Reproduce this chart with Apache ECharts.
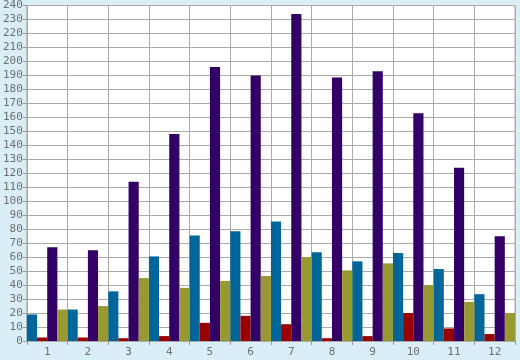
<!DOCTYPE html>
<html>
<head>
<meta charset="utf-8">
<script src="https://cdn.jsdelivr.net/npm/echarts@6/dist/echarts.min.js"></script>
<style>
html,body{margin:0;padding:0;background:#d9eef7;}
#c{width:520px;height:360px;}
</style>
</head>
<body>
<div id="c"></div>
<script>
var categories = ['1','2','3','4','5','6','7','8','9','10','11','12'];
var seriesTeal = [19, 22.5, 35.5, 60.5, 75.5, 78.5, 85.5, 63.5, 57, 63, 51.5, 33.5];
var seriesRed = [2.5, 2.5, 2, 3.5, 13, 18, 12, 2, 3.5, 20, 9, 5];
var seriesPurple = [67, 65, 114, 148, 196, 190, 234, 188.5, 193, 163, 124, 75];
var seriesOlive = [22.5, 25, 45, 38, 43, 46.5, 60, 50.5, 55.5, 40, 28, 20];
var colors = ['#006699', '#990000', '#330066', '#999933'];

var chart = echarts.init(document.getElementById('c'), null, {renderer: 'canvas'});
var labelFont = {color: '#6f6f6f', fontFamily: 'DejaVu Sans Mono', fontSize: 11};
function bar(data, i) {
  return {type: 'bar', data: data, barGap: '0%', barCategoryGap: '0%',
          itemStyle: {color: colors[i]}, animation: false};
}
chart.setOption({
  backgroundColor: '#d9eef7',
  animation: false,
  grid: {left: 26, right: 5, top: 5, bottom: 19, show: true, backgroundColor: '#ffffff',
         borderColor: '#aaaaaa', borderWidth: 1},
  xAxis: {
    type: 'category', data: categories, boundaryGap: true,
    axisLine: {show: true, lineStyle: {color: '#aaaaaa'}},
    axisTick: {show: true, length: 4, lineStyle: {color: '#999999'}},
    splitLine: {show: true, lineStyle: {color: '#aaaaaa', width: 1}},
    axisLabel: Object.assign({margin: 6}, labelFont)
  },
  yAxis: {
    type: 'value', min: 0, max: 240, interval: 10,
    axisLine: {show: true, lineStyle: {color: '#aaaaaa'}},
    axisTick: {show: true, length: 4, lineStyle: {color: '#999999'}},
    splitLine: {show: true, lineStyle: {color: '#aaaaaa', width: 1}},
    axisLabel: Object.assign({margin: 4}, labelFont)
  },
  series: [bar(seriesTeal, 0), bar(seriesRed, 1), bar(seriesPurple, 2), bar(seriesOlive, 3)]
});
</script>
</body>
</html>
